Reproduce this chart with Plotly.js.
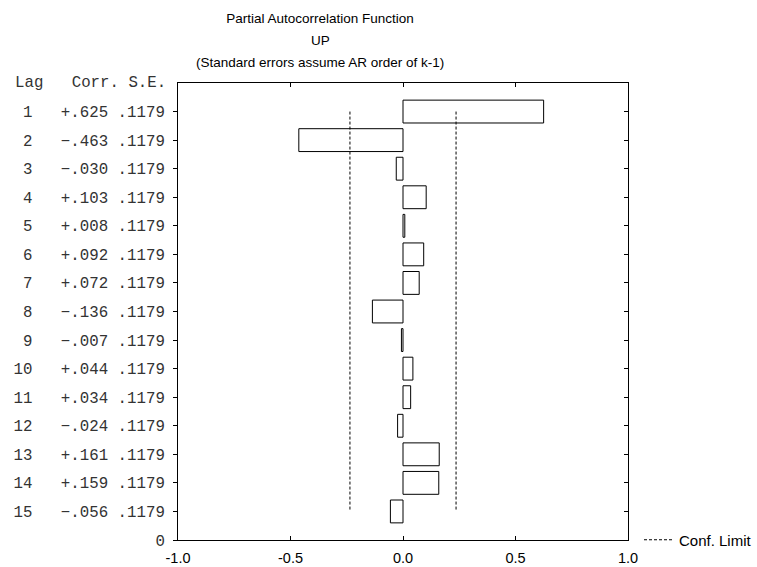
<!DOCTYPE html>
<html>
<head>
<meta charset="utf-8">
<script src="https://cdn.plot.ly/plotly-3.0.1.min.js"></script>
<style>html,body{margin:0;padding:0;background:#fff;}#chart{width:757px;height:567px;}</style>
</head>
<body>
<div id="chart"></div>
<script>
// ---- data ----
const lags = [1,2,3,4,5,6,7,8,9,10,11,12,13,14,15];
const corr = [0.625,-0.463,-0.030,0.103,0.008,0.092,0.072,-0.136,-0.007,0.044,0.034,-0.024,0.161,0.159,-0.056];
const stdErr = [0.1179,0.1179,0.1179,0.1179,0.1179,0.1179,0.1179,0.1179,0.1179,0.1179,0.1179,0.1179,0.1179,0.1179,0.1179];
const xTickVals = [-1,-0.5,0,0.5,1];
const xTickText = ["-1.0","-0.5","0.0","0.5","1.0"];
const headerText = "Lag   Corr. S.E.";
const titleLines = ["Partial Autocorrelation Function","UP","(Standard errors assume AR order of k-1)"];
const legendName = "Conf. Limit";

// ---- derived ----
const nTop = lags.length + 1;
const yPos = lags.map(l => nTop - l);
function fmtCorr(v){ const s = Math.abs(v).toFixed(3).replace(/^0/,''); return (v<0?'\u2212':'+') + s; }
function fmtSE(v){ return v.toFixed(4).replace(/^0/,''); }
const rowText = lags.map((l,i) => String(l).padStart(2,' ') + '   ' + fmtCorr(corr[i]) + ' ' + fmtSE(stdErr[i]));
const tickVals = [0].concat(yPos);
const tickText = ['0'].concat(rowText).map(s => s.replace(/ /g,'\u00a0'));

// confidence limits: +/- 2 S.E., from first lag to last lag
const cx = [], cy = [];
[-1,1].forEach(sgn => {
  cx.push(sgn*2*stdErr[0], sgn*2*stdErr[stdErr.length-1], null);
  cy.push(yPos[0], yPos[yPos.length-1], null);
});

const mono = "'Liberation Mono', 'Courier New', monospace";
const sans = "'Liberation Sans', Arial, sans-serif";
const monoSize = 15.75;

const traces = [
  {
    type: 'bar', orientation: 'h',
    x: corr, y: yPos, width: 0.8, base: 0,
    marker: {color: '#ffffff', line: {color: '#000000', width: 1}},
    showlegend: false, hoverinfo: 'skip'
  },
  {
    type: 'scatter', mode: 'lines',
    x: cx, y: cy, yaxis: 'y2',
    name: legendName,
    line: {color: '#000000', width: 1, dash: '3px,2px'},
    hoverinfo: 'skip'
  }
];

const layout = {
  width: 757, height: 567,
  margin: {l: 178, r: 129, t: 83, b: 27, pad: 0},
  paper_bgcolor: '#ffffff', plot_bgcolor: '#ffffff',
  font: {family: sans, color: '#000000'},
  title: {text: titleLines[0], font: {family: sans, size: 13.5, color: '#000'},
          x: 320/757, xref: 'container', xanchor: 'center',
          y: 1 - 18/567, yref: 'container', yanchor: 'middle'},
  xaxis: {
    range: [-1, 1], tickvals: xTickVals, ticktext: xTickText,
    ticks: 'inside', ticklen: 4, tickcolor: '#000', tickwidth: 1,
    showline: true, linecolor: '#000', linewidth: 1, mirror: 'ticks',
    showgrid: false, zeroline: false, ticklabelstandoff: 5,
    tickfont: {family: sans, size: 14.5, color: '#000'}
  },
  yaxis: {
    range: [0, nTop], tickvals: tickVals, ticktext: tickText,
    ticks: 'outside', ticklen: 4, tickcolor: '#000', tickwidth: 1,
    showline: true, linecolor: '#000', linewidth: 1, mirror: true,
    showgrid: false, zeroline: false, ticklabelstandoff: 5,
    tickfont: {family: mono, size: monoSize, color: '#333'}
  },
  yaxis2: {
    overlaying: 'y', side: 'right', range: [0, nTop],
    tickvals: tickVals, showticklabels: false,
    ticks: 'inside', ticklen: 4, tickcolor: '#000', tickwidth: 1,
    showline: true, linecolor: '#000', linewidth: 1,
    showgrid: false, zeroline: false
  },
  showlegend: true,
  legend: {x: 639/757, xref: 'container', xanchor: 'left',
           y: 0, yref: 'paper', yanchor: 'middle',
           font: {family: sans, size: 15, color: '#000'},
           bgcolor: 'rgba(0,0,0,0)', borderwidth: 0, itemwidth: 30},
  annotations: [
    {text: titleLines[1], xref: 'paper', yref: 'paper', x: (320-178)/450, y: (540-40)/457,
     xanchor: 'center', yanchor: 'middle', showarrow: false, font: {family: sans, size: 13.5, color: '#000'}},
    {text: titleLines[2], xref: 'paper', yref: 'paper', x: (320-178)/450, y: (540-62)/457,
     xanchor: 'center', yanchor: 'middle', showarrow: false, font: {family: sans, size: 13.5, color: '#000'}},
    {text: headerText.replace(/ /g,'\u00a0'), xref: 'paper', yref: 'paper', x: (167-178)/450, y: 1,
     xanchor: 'right', yanchor: 'middle', showarrow: false, borderpad: 0,
     font: {family: mono, size: monoSize, color: '#333'}}
  ]
};

Plotly.newPlot('chart', traces, layout, {displayModeBar: false, staticPlot: true});
</script>
</body>
</html>
